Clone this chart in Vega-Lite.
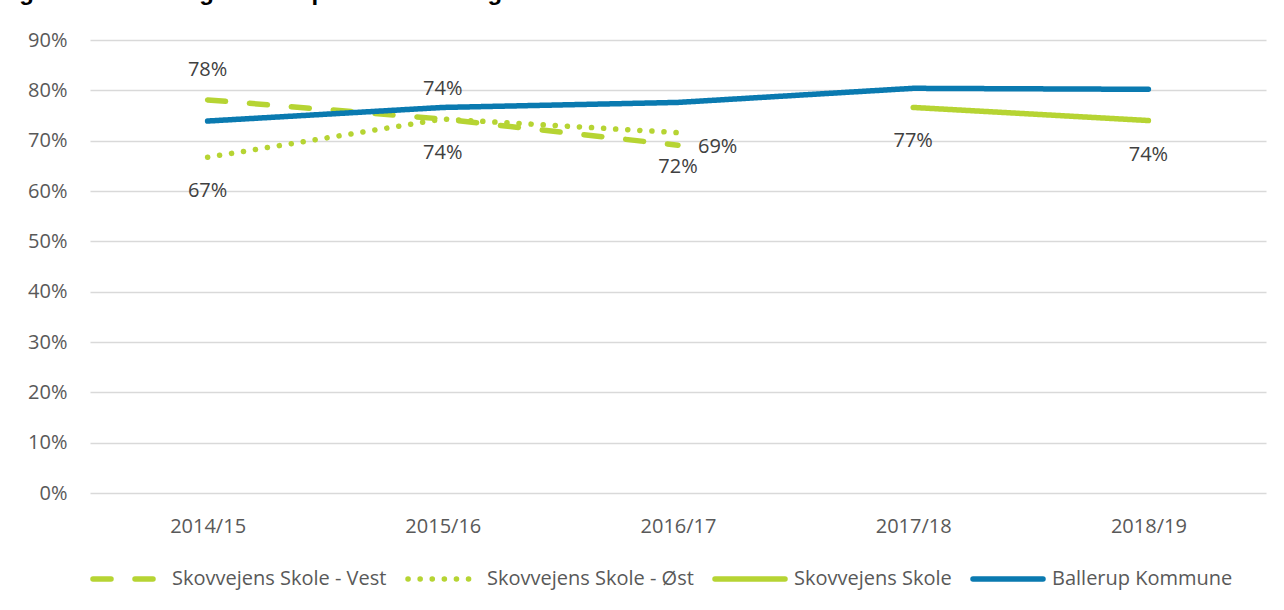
{
  "$schema": "https://vega.github.io/schema/vega-lite/v6.json",
  "autosize": "none",
  "width": 1176,
  "height": 453,
  "padding": {"left": 90, "top": 40, "right": 18, "bottom": 117},
  "title": {
    "text": "Figur 20: Udviklingen i kompetencedækningen.",
    "anchor": "start",
    "frame": "group",
    "dx": -92,
    "dy": 14,
    "offset": 20,
    "baseline": "alphabetic",
    "font": "Liberation Sans",
    "fontSize": 24,
    "fontWeight": "bold",
    "color": "#000000"
  },
  "data": {
    "values": [
      {"series": "Skovvejens Skole - Vest", "year": "2014/15", "value": 0.781},
      {"series": "Skovvejens Skole - Vest", "year": "2015/16", "value": 0.743},
      {"series": "Skovvejens Skole - Vest", "year": "2016/17", "value": 0.691},
      {"series": "Skovvejens Skole - Øst", "year": "2014/15", "value": 0.667},
      {"series": "Skovvejens Skole - Øst", "year": "2015/16", "value": 0.743},
      {"series": "Skovvejens Skole - Øst", "year": "2016/17", "value": 0.716},
      {"series": "Skovvejens Skole", "year": "2017/18", "value": 0.766},
      {"series": "Skovvejens Skole", "year": "2018/19", "value": 0.740},
      {"series": "Ballerup Kommune", "year": "2014/15", "value": 0.739},
      {"series": "Ballerup Kommune", "year": "2015/16", "value": 0.766},
      {"series": "Ballerup Kommune", "year": "2016/17", "value": 0.776},
      {"series": "Ballerup Kommune", "year": "2017/18", "value": 0.804},
      {"series": "Ballerup Kommune", "year": "2018/19", "value": 0.802}
    ]
  },
  "encoding": {
    "x": {
      "field": "year",
      "type": "ordinal",
      "scale": {"type": "point", "padding": 0.5, "domain": ["2014/15", "2015/16", "2016/17", "2017/18", "2018/19"]},
      "axis": {"title": null, "labelAngle": 0, "grid": false, "domain": false, "ticks": false, "labelPadding": 23, "labelFontSize": 20, "labelColor": "#595959", "labelFont": "Open Sans"}
    },
    "y": {
      "field": "value",
      "type": "quantitative",
      "scale": {"domain": [0, 0.9], "nice": false},
      "axis": {"title": null, "values": [0, 0.1, 0.2, 0.3, 0.4, 0.5, 0.6, 0.7, 0.8, 0.9], "format": ".0%", "grid": true, "gridColor": "#D9D9D9", "gridWidth": 1.3, "domain": false, "ticks": false, "labelPadding": 23, "labelFontSize": 20, "labelColor": "#595959", "labelFont": "Open Sans"}
    }
  },
  "layer": [
    {
      "mark": {"type": "line", "strokeWidth": 5.5, "strokeCap": "round", "strokeJoin": "round"},
      "encoding": {
        "color": {
          "field": "series",
          "type": "nominal",
          "scale": {"domain": ["Skovvejens Skole - Vest", "Skovvejens Skole - Øst", "Skovvejens Skole", "Ballerup Kommune"], "range": ["#B6D433", "#B6D433", "#B6D433", "#0A7AB0"]},
          "legend": {"title": null, "encode": {"symbols": {"update": {"strokeCap": {"value": "round"}}}}}
        },
        "strokeDash": {
          "field": "series",
          "type": "nominal",
          "scale": {"domain": ["Skovvejens Skole - Vest", "Skovvejens Skole - Øst", "Skovvejens Skole", "Ballerup Kommune"], "range": [[18, 24], [0.1, 12], [1, 0], [1, 0]]},
          "legend": {"title": null, "encode": {"symbols": {"update": {"strokeCap": {"value": "round"}}}}}
        }
      }
    },
    {
      "transform": [{"filter": "(datum.series == 'Skovvejens Skole - Vest' && datum.year == '2014/15') || (datum.series == 'Skovvejens Skole - Øst' && datum.year == '2015/16')"}],
      "mark": {"type": "text", "dy": -30, "fontSize": 20, "font": "Open Sans", "color": "#404040"},
      "encoding": {"text": {"field": "value", "type": "quantitative", "format": ".0%"}}
    },
    {
      "transform": [{"filter": "datum.series == 'Skovvejens Skole - Vest' && datum.year == '2016/17'"}],
      "mark": {"type": "text", "dy": 2, "dx": 20, "align": "left", "fontSize": 20, "font": "Open Sans", "color": "#404040"},
      "encoding": {"text": {"field": "value", "type": "quantitative", "format": ".0%"}}
    },
    {
      "transform": [{"filter": "datum.series != 'Ballerup Kommune' && !(datum.series == 'Skovvejens Skole - Vest' && (datum.year == '2014/15' || datum.year == '2016/17')) && !(datum.series == 'Skovvejens Skole - Øst' && datum.year == '2015/16')"}],
      "mark": {"type": "text", "dy": 34, "fontSize": 20, "font": "Open Sans", "color": "#404040"},
      "encoding": {"text": {"field": "value", "type": "quantitative", "format": ".0%"}}
    }
  ],
  "config": {
    "view": {"stroke": null},
    "font": "Open Sans",
    "legend": {
      "orient": "bottom",
      "direction": "horizontal",
      "symbolType": "stroke",
      "symbolSize": 4900,
      "symbolStrokeWidth": 5.5,
      "labelFontSize": 20,
      "labelFont": "Open Sans",
      "labelColor": "#595959",
      "labelOffset": 6,
      "columnPadding": 10,
      "offset": 5,
      "labelLimit": 400,
      "padding": 0
    }
  }
}
